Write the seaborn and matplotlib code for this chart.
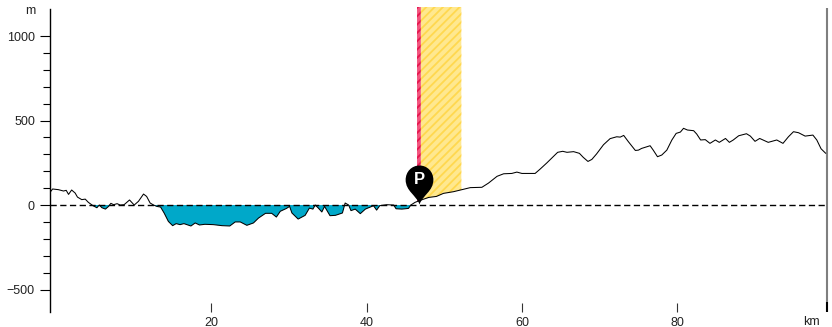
import numpy as np
import pandas as pd
import seaborn as sns
import matplotlib.pyplot as plt
from matplotlib.path import Path

km = [-0.8, -0.4, 0.35, 1.0, 1.35, 1.65, 2.05, 2.5, 2.8, 3.35, 3.8, 4.2, 4.8, 5.3, 5.6, 5.95, 6.4, 6.8, 7.1, 7.45,
      7.9, 8.3, 8.8, 9.5, 10.1, 10.65, 11.3, 11.7, 12.15, 12.6, 13, 13.5, 13.95, 14.5, 15.05, 15.5, 16, 16.5, 17.4, 17.95,
      18.5, 19.2, 20.3, 21.4, 22.4, 23.1, 23.75, 24.6, 25.45, 26.1, 27, 27.8, 28.4, 28.9, 29.7, 30.1, 30.4, 31.2, 32.1, 32.65,
      33.1, 33.4, 33.8, 34.25, 34.6, 35.3, 36, 36.9, 37.25, 37.7, 38, 38.55, 39.2, 39.85, 40.5, 40.9, 41.3, 41.7, 42.6, 43.5,
      43.8, 44.55, 45.4, 45.7, 46.25, 46.8, 48, 49, 49.9, 51.2, 52.3, 53.35, 54.85, 55.7, 56.8, 57.65, 58.7, 59.35, 60, 61.7,
      62.35, 63.2, 64.3, 64.6, 65.25, 65.8, 66.65, 67.4, 67.9, 68.5, 69, 69.6, 70.5, 71.35, 72.2, 72.65, 73.1, 73.7, 74.6, 75,
      75.4, 76.5, 76.9, 77.45, 78, 78.65, 79.3, 79.85, 80.4, 80.8, 81.3, 82.1, 82.5, 83, 83.6, 84.2, 84.9, 85.4, 86.2, 86.7,
      87.2, 87.9, 88.9, 89.4, 90, 90.6, 91.7, 92.8, 93.6, 94.3, 94.95, 95.6, 96.45, 97.45, 97.95, 98.5, 99.1]
elev = [71, 95, 91, 83, 87, 63, 89, 71, 47, 32, 35, 16, -4, -16, 0, -16, -24, -8, 10, 2,
        8, 0, 2, 30, 0, 22, 65, 51, 12, 0, -8, -12, -47, -97, -122, -110, -116, -110, -124, -106,
        -118, -114, -116, -122, -124, -100, -100, -120, -106, -77, -49, -49, -71, -37, -20, -8, -47, -83, -61, -18,
        -24, 0, -18, -41, -8, -63, -61, -47, 12, 0, -33, -24, -51, -24, -12, -4, -30, -4, 2, 0,
        -22, -24, -20, 0, 16, 26, 45, 51, 69, 79, 91, 103, 105, 130, 170, 185, 187, 195, 187, 187,
        213, 249, 298, 312, 318, 312, 316, 306, 282, 258, 270, 302, 357, 393, 404, 402, 412, 375, 323, 325,
        335, 351, 325, 286, 296, 325, 385, 424, 432, 454, 444, 440, 420, 385, 387, 365, 385, 371, 394, 371,
        385, 410, 422, 408, 377, 394, 371, 385, 365, 404, 434, 428, 408, 414, 385, 333, 306]

x_ticks = [20, 40, 60, 80]
y_major = [-500, 0, 500, 1000]
y_minor = [-400, -300, -200, -100, 100, 200, 300, 400, 600, 700, 800, 900]
red_zone = [46.5, 47.0]
yellow_zone = [47.0, 52.2]
pin_km = 46.7
pin_m = 6

sns.set_theme(style='white')
plt.rcParams['font.family'] = ['Liberation Sans', 'DejaVu Sans']
plt.rcParams['hatch.linewidth'] = 1.3

df = pd.DataFrame({'km': km, 'elev': elev})
W, H = 832, 327
fig = plt.figure(figsize=(W / 100, H / 100), dpi=100)
ax = fig.add_axes([49.5 / W, 1 - 312 / H, 777 / W, 305 / H])
ax.patch.set_alpha(0)

top = 1172
ax.set_xlim(-0.8, 99.2)
ax.set_ylim(-633, top)

xx = np.array(km)
yy = np.array(elev)

def zone(lo, hi, face, edge):
    grid = np.array([lo] + [k for k in km if lo < k < hi] + [hi])
    ax.fill_between(grid, np.interp(grid, xx, yy), top, facecolor=face, edgecolor=edge, hatch='////', linewidth=0, zorder=1)

zone(red_zone[0], red_zone[1], '#f2557f', '#e5174f')
zone(yellow_zone[0], yellow_zone[1], '#ffe88f', '#ffd84f')

# sea level parts
ax.fill_between(xx, yy, 0, where=yy <= 0, interpolate=True, color='#00a8c9', linewidth=0, zorder=2)
ax.axhline(0, color='black', lw=1, dashes=(4.5, 2.5), zorder=3)
sns.lineplot(data=df, x='km', y='elev', ax=ax, color='black', lw=0.75, estimator=None, sort=False, zorder=4)
ax.set_xlabel('')
ax.set_ylabel('')

# pin, vertices in pixels above the tip
pin = Path([(0, 0), (-3, 9), (-13.5, 13), (-13.5, 24), (-13.5, 32), (-7.5, 38), (0, 38), (7.5, 38), (13.5, 32), (13.5, 24), (13.5, 13), (3, 9), (0, 0), (0, 0)],
           [Path.MOVETO, Path.CURVE4, Path.CURVE4, Path.CURVE4, Path.CURVE4, Path.CURVE4, Path.CURVE4, Path.CURVE4, Path.CURVE4, Path.CURVE4, Path.CURVE4, Path.CURVE4, Path.CURVE4, Path.CLOSEPOLY])
ax.plot([pin_km], [pin_m], marker=pin, markersize=78 * 0.72, color='black', mew=0, zorder=5, clip_on=False)
ax.annotate('P', (pin_km, pin_m), xytext=(0.5, 18), textcoords='offset points', ha='center', va='center',
            color='white', fontsize=12, fontweight='bold', zorder=6)

for s in ['top', 'bottom', 'right']:
    ax.spines[s].set_visible(False)
ax.spines['left'].set_bounds(-633, 1160)
ax.spines['left'].set_color('black')
ax.spines['left'].set_linewidth(1)
ax.plot([1, 1], [0.033, 0.997], transform=ax.transAxes, color='#7f7f7f', lw=1.5, clip_on=False, zorder=3, solid_capstyle='butt')
ax.plot([1, 1], [0, 0.033], transform=ax.transAxes, color='black', lw=1.5, clip_on=False, zorder=3, solid_capstyle='butt')

ax.set_xticks(x_ticks)
ax.set_yticks(y_major)
ax.set_yticks(y_minor, minor=True)
ax.tick_params(axis='x', which='major', direction='in', length=6.5, width=0.8, color='#333333', labelsize=9, labelcolor='#222222', pad=3.5, bottom=True)
ax.tick_params(axis='y', which='major', direction='out', length=7, width=0.8, color='black', labelsize=9, labelcolor='#222222', pad=3.5, left=True)
ax.tick_params(axis='y', which='minor', direction='out', length=4.7, width=0.8, color='black', left=True)

ax.text(35 / W, 1 - 11 / H, 'm', transform=fig.transFigure, ha='right', va='center', fontsize=9, color='#222222')
ax.text(811 / W, 1 - 322 / H, 'km', transform=fig.transFigure, ha='center', va='center', fontsize=9, color='#222222')

fig.savefig('out.png', dpi=100)
